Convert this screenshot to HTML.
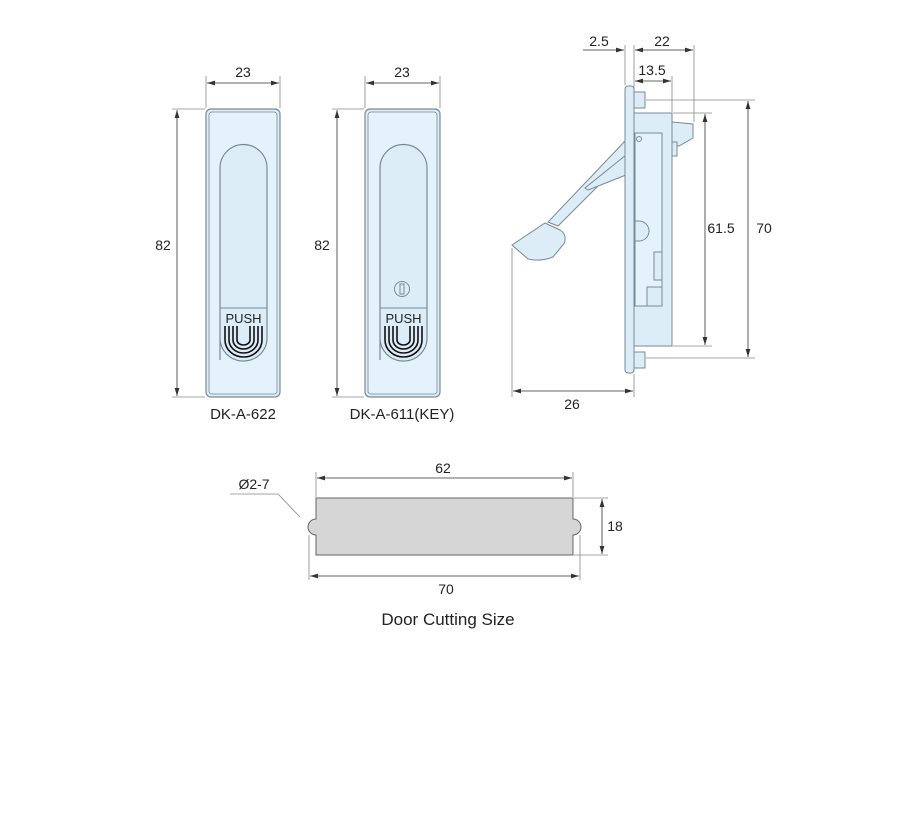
<!DOCTYPE html>
<html><head><style>
html,body{margin:0;padding:0;background:#fff;}
svg{display:block;}
text{font-family:"Liberation Sans",sans-serif;font-size:14px;fill:#222;}
</style></head><body>
<svg width="900" height="826" viewBox="0 0 900 826" xmlns="http://www.w3.org/2000/svg">
<defs>
<marker id="a" viewBox="0 0 10 6" refX="10" refY="3" markerWidth="10" markerHeight="6" orient="auto-start-reverse"><path d="M0,0L10,3L0,6z" fill="#333"/></marker>
</defs>
<g stroke="#888" stroke-width="0.8" fill="none">
<line x1="206" y1="76" x2="206" y2="108"/><line x1="280" y1="76" x2="280" y2="108"/>
<line x1="172" y1="109" x2="205" y2="109"/><line x1="172" y1="397" x2="205" y2="397"/>
<line x1="365" y1="76" x2="365" y2="108"/><line x1="440" y1="76" x2="440" y2="108"/>
<line x1="332" y1="109" x2="364" y2="109"/><line x1="332" y1="397" x2="364" y2="397"/>
</g>
<g stroke="#333" stroke-width="0.8" fill="none">
<line x1="207" y1="83" x2="279" y2="83" marker-start="url(#a)" marker-end="url(#a)"/>
<line x1="177" y1="110" x2="177" y2="396" marker-start="url(#a)" marker-end="url(#a)"/>
<line x1="366" y1="83" x2="439" y2="83" marker-start="url(#a)" marker-end="url(#a)"/>
<line x1="337" y1="110" x2="337" y2="396" marker-start="url(#a)" marker-end="url(#a)"/>
</g>
<text x="243" y="77" text-anchor="middle">23</text>
<text x="402" y="77" text-anchor="middle">23</text>
<text x="163" y="250" text-anchor="middle">82</text>
<text x="322" y="250" text-anchor="middle">82</text>
<g stroke="#7a8a94" stroke-width="1.2" fill="#dcedf7">
<rect x="206" y="109" width="74" height="288" rx="5"/>
<rect x="209" y="112" width="68" height="282" rx="3" fill="#e3f2fb" stroke-width="0.8"/>
<path d="M220,360 V168 A23.5,23.5 0 0 1 267,168 V338 A23.5,23 0 0 1 220,338 Z"/>
<rect x="365" y="109" width="75" height="288" rx="5"/>
<rect x="368" y="112" width="69" height="282" rx="3" fill="#e3f2fb" stroke-width="0.8"/>
<path d="M380,360 V168 A23.5,23.5 0 0 1 427,168 V338 A23.5,23 0 0 1 380,338 Z"/>
</g>
<g stroke="#7a8a94" stroke-width="1" fill="none">
<line x1="220" y1="308" x2="267" y2="308"/>
<line x1="380" y1="308" x2="427" y2="308"/>
<circle cx="402" cy="289" r="7.5"/><rect x="400" y="284" width="4" height="10"/>
</g>
<text x="243.5" y="323" text-anchor="middle" style="font-size:13px">PUSH</text>
<text x="403.5" y="323" text-anchor="middle" style="font-size:13px">PUSH</text>
<g stroke="#111" stroke-width="1.6" fill="none">
<path d="M225,326 V340 A18.5,17 0 0 0 262,340 V326"/>
<path d="M229,326 V340 A14.5,13 0 0 0 258,340 V326"/>
<path d="M233,326 V340 A10.5,9 0 0 0 254,340 V326"/>
<path d="M237,326 V340 A6.5,5 0 0 0 250,340 V326"/>
<path d="M385,326 V340 A18.5,17 0 0 0 422,340 V326"/>
<path d="M389,326 V340 A14.5,13 0 0 0 418,340 V326"/>
<path d="M393,326 V340 A10.5,9 0 0 0 414,340 V326"/>
<path d="M397,326 V340 A6.5,5 0 0 0 410,340 V326"/>
</g>
<text x="243" y="419" text-anchor="middle" style="font-size:15px">DK-A-622</text>
<text x="402" y="419" text-anchor="middle" style="font-size:15px">DK-A-611(KEY)</text>
<g stroke="#7a8a94" stroke-width="1" fill="#dcedf7">
<path d="M626,140 L548,222 L558,226 L626,158 Z"/>
<path d="M512,245 L545,223 L560,230 A10,10 0 0 1 562,246 L553,257 Q540,262 528,259 Z"/>
<path d="M588,190 L626,175 L626,155 L585,188 Z"/>
<rect x="634" y="113" width="38" height="233"/>
<rect x="635" y="133" width="27" height="173" fill="#e3f2fb"/>
<path d="M635,221 h4 a10,10 0 0 1 0,20 h-4z"/>
<rect x="654" y="252" width="8" height="28"/>
<rect x="647" y="287" width="15" height="19"/>
<circle cx="639" cy="139" r="2.5"/>
<path d="M672,122 L693,124 L693,138 L679,146 L672,146 Z"/>
<rect x="672" y="142" width="5" height="14"/>
<rect x="634" y="92" width="11" height="16"/>
<rect x="634" y="352" width="11" height="16"/>
<rect x="625" y="86" width="9" height="287" rx="3"/>
</g>
<g stroke="#888" stroke-width="0.8" fill="none">
<line x1="625" y1="45" x2="625" y2="85"/><line x1="634" y1="45" x2="634" y2="112"/>
<line x1="694" y1="45" x2="694" y2="122"/><line x1="672" y1="76" x2="672" y2="112"/>
<line x1="646" y1="100" x2="755" y2="100"/><line x1="646" y1="358" x2="755" y2="358"/>
<line x1="673" y1="113" x2="712" y2="113"/><line x1="673" y1="346" x2="712" y2="346"/>
<line x1="512" y1="248" x2="512" y2="397"/><line x1="634" y1="374" x2="634" y2="397"/>
</g>
<g stroke="#333" stroke-width="0.8" fill="none">
<line x1="583" y1="50" x2="624" y2="50" marker-end="url(#a)"/>
<line x1="635" y1="50" x2="693" y2="50" marker-start="url(#a)" marker-end="url(#a)"/>
<line x1="635" y1="81" x2="671" y2="81" marker-start="url(#a)" marker-end="url(#a)"/>
<line x1="705" y1="114" x2="705" y2="345" marker-start="url(#a)" marker-end="url(#a)"/>
<line x1="748" y1="101" x2="748" y2="357" marker-start="url(#a)" marker-end="url(#a)"/>
<line x1="513" y1="391" x2="633" y2="391" marker-start="url(#a)" marker-end="url(#a)"/>
</g>
<text x="599" y="46" text-anchor="middle">2.5</text>
<text x="662" y="46" text-anchor="middle">22</text>
<text x="652" y="75" text-anchor="middle">13.5</text>
<text x="721" y="233" text-anchor="middle">61.5</text>
<text x="764" y="233" text-anchor="middle">70</text>
<text x="572" y="409" text-anchor="middle">26</text>
<path d="M316,498 H573 V519 A8,8 0 0 1 573,535 V555 H316 V535 A8,8 0 0 1 316,519 Z" fill="#d6d6d6" stroke="#666" stroke-width="1"/>
<g stroke="#888" stroke-width="0.8" fill="none">
<line x1="316" y1="472" x2="316" y2="497"/><line x1="573" y1="472" x2="573" y2="497"/>
<line x1="574" y1="498" x2="608" y2="498"/><line x1="574" y1="555" x2="608" y2="555"/>
<line x1="309" y1="535" x2="309" y2="580"/><line x1="580" y1="535" x2="580" y2="580"/>
<polyline points="230,494 278,494 300,517"/>
</g>
<g stroke="#333" stroke-width="0.8" fill="none">
<line x1="317" y1="478" x2="572" y2="478" marker-start="url(#a)" marker-end="url(#a)"/>
<line x1="602" y1="499" x2="602" y2="554" marker-start="url(#a)" marker-end="url(#a)"/>
<line x1="310" y1="576" x2="579" y2="576" marker-start="url(#a)" marker-end="url(#a)"/>
</g>
<text x="443" y="473" text-anchor="middle">62</text>
<text x="254" y="489" text-anchor="middle">Ø2-7</text>
<text x="615" y="531" text-anchor="middle">18</text>
<text x="446" y="594" text-anchor="middle">70</text>
<text x="448" y="625" text-anchor="middle" style="font-size:17px">Door Cutting Size</text>
</svg>
</body></html>
